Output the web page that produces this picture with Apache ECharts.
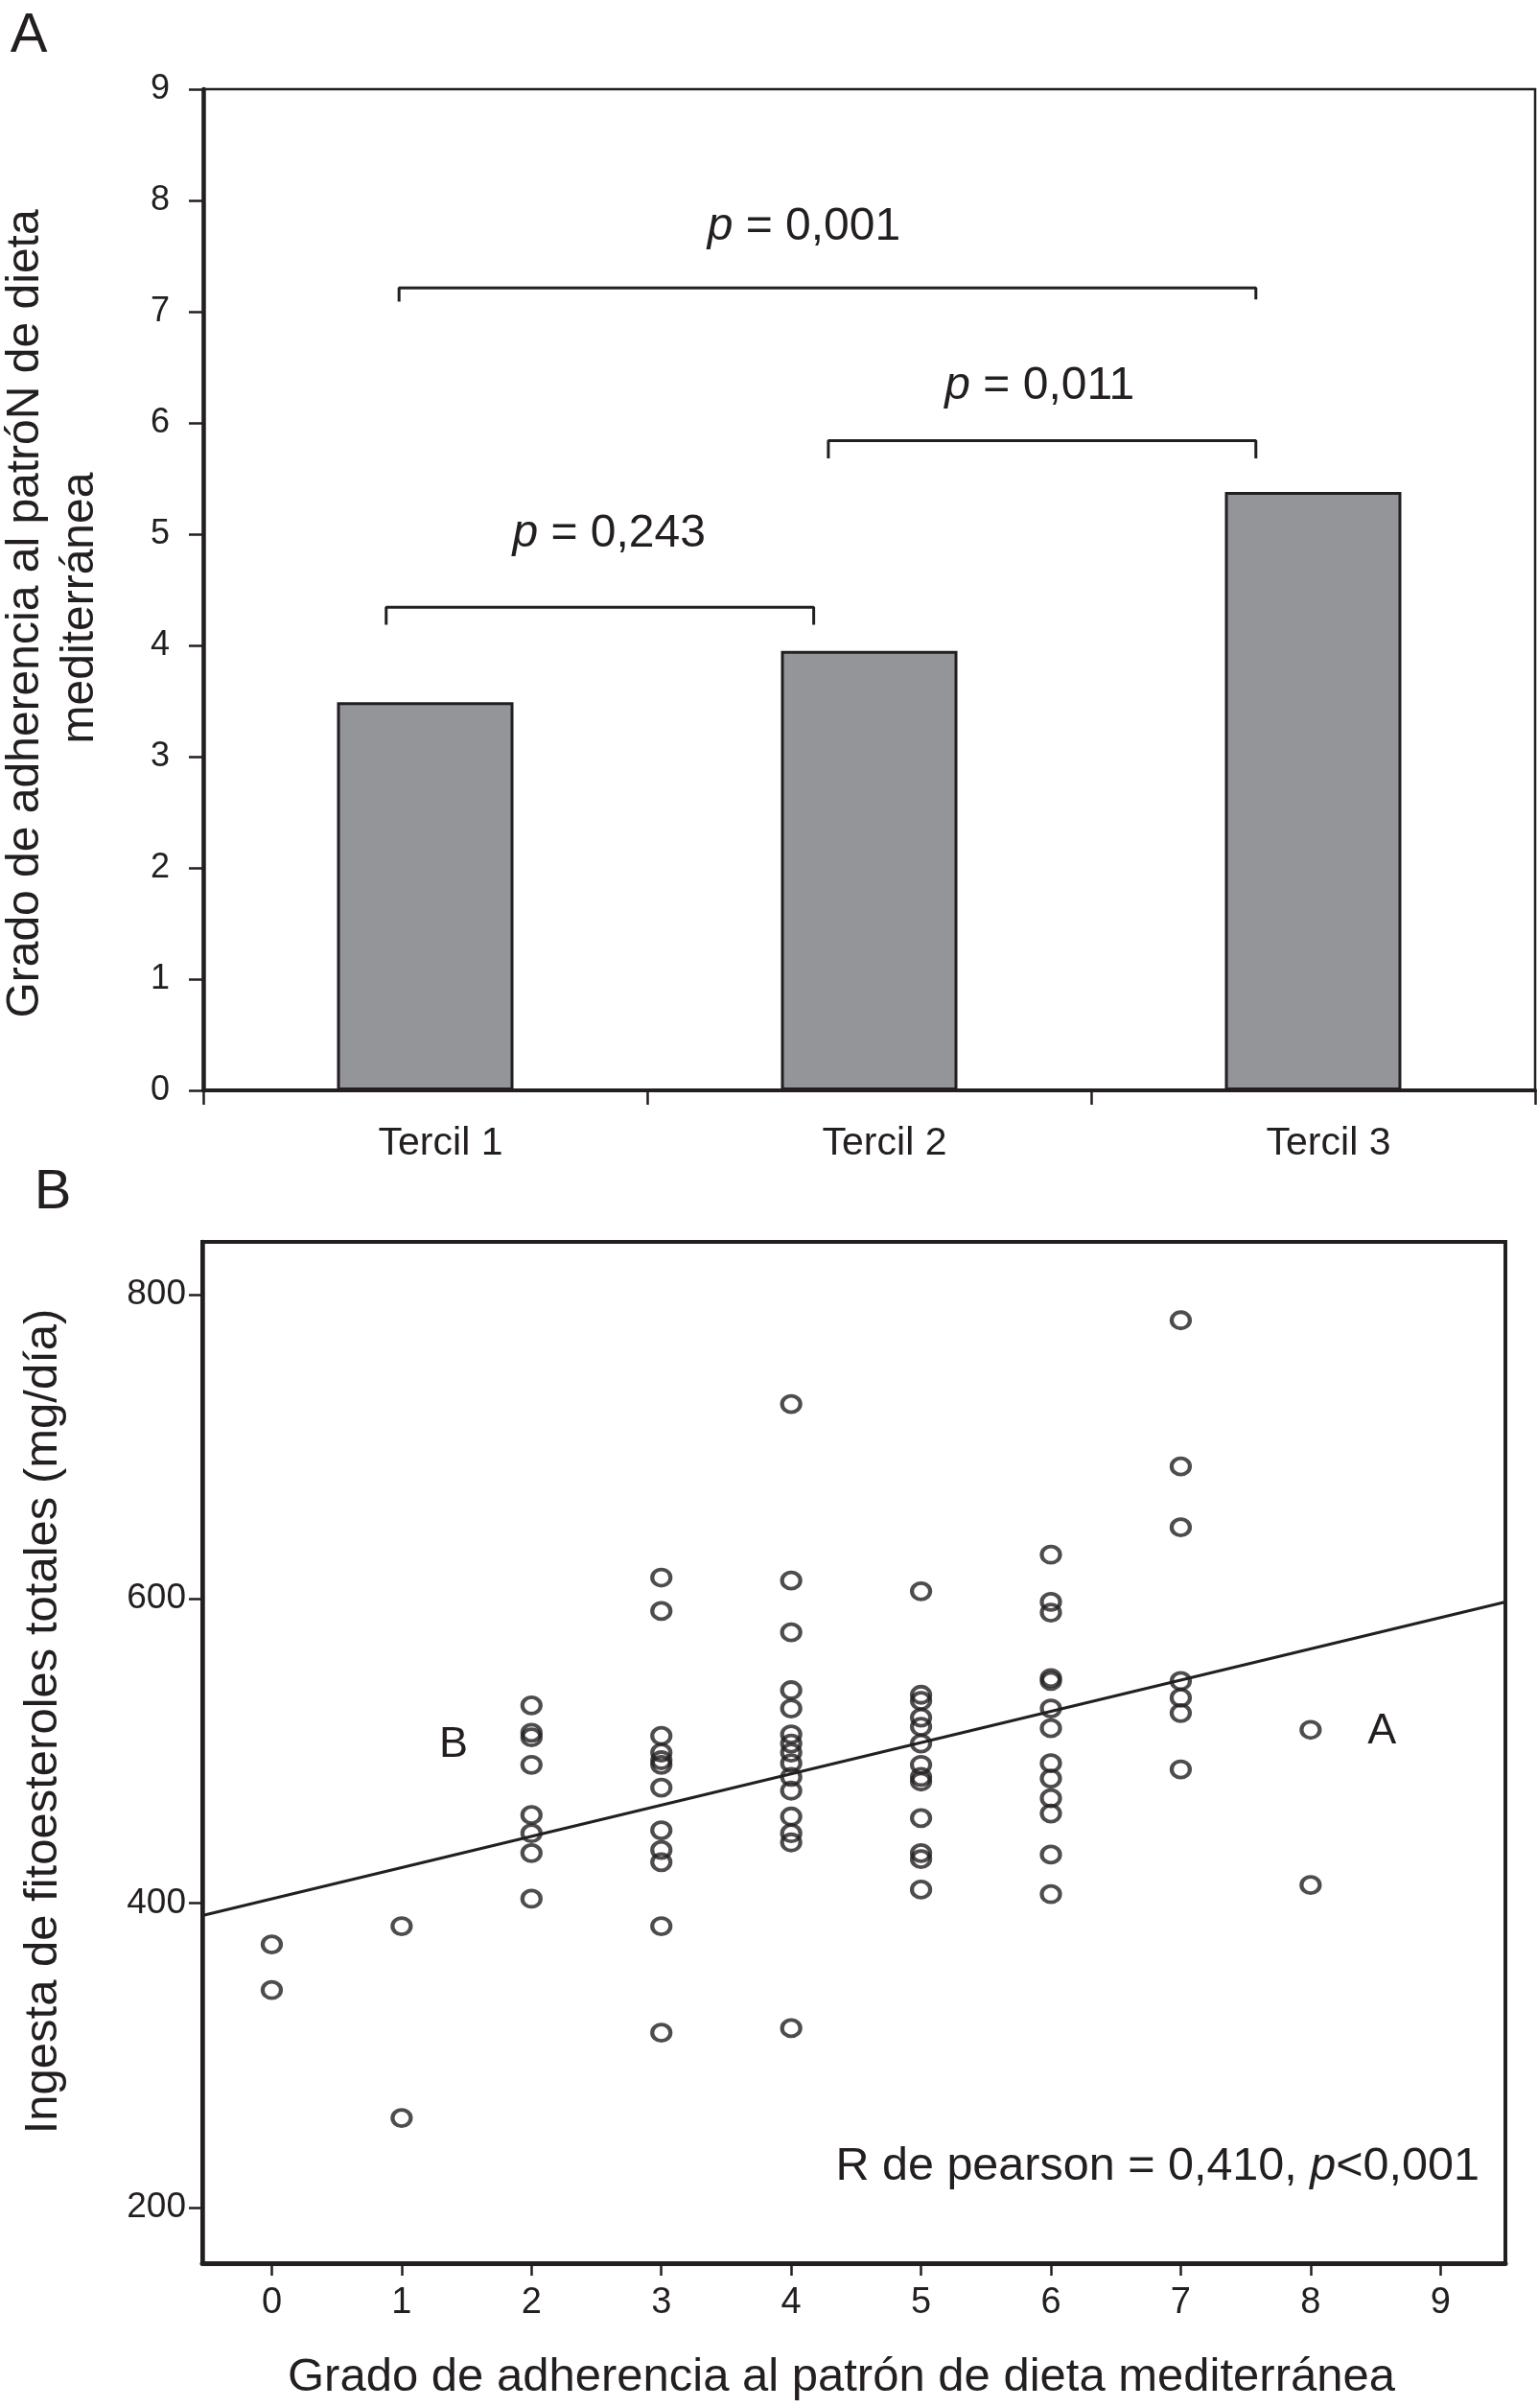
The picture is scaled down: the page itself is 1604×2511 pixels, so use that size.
<!DOCTYPE html>
<html>
<head>
<meta charset="utf-8">
<script src="https://cdn.jsdelivr.net/npm/echarts@6/dist/echarts.min.js"></script>
<style>
html,body{margin:0;padding:0;background:#fff;}
#chart{width:1604px;height:2511px;}
</style>
</head>
<body>
<div id="chart"></div>
<script>
// ---------- Panel A data ----------
const terciles = ['Tercil 1', 'Tercil 2', 'Tercil 3'];
const adherenceMeans = [3.49, 3.95, 5.38];
const yTicksA = [0, 1, 2, 3, 4, 5, 6, 7, 8, 9];

// significance brackets (x in category-band units 0..3, y in score units)
const pValues = ['0,243', '0,011', '0,001'];
const bracketLeft = [0.412, 1.408, 0.441];
const bracketRight = [1.375, 2.371, 2.371];
const bracketTop = [4.342, 5.84, 7.214];
const bracketLeftEnd = [4.185, 5.68, 7.09];
const bracketRightEnd = [4.185, 5.68, 7.11];
const pLabelX = [0.914, 1.884, 1.353];
const pLabelY = [5.0, 6.33, 7.76];

// ---------- Panel B data ----------
const scoreLevels = [0, 1, 2, 3, 4, 5, 6, 7, 8];
const intakeByScore = [
  [373, 343],
  [385, 259],
  [530, 512, 509, 491, 458, 446, 433, 403],
  [614, 592, 510, 499, 494, 491, 476, 448, 435, 427, 385, 315],
  [728, 612, 578, 540, 528, 511, 505, 499, 492, 483, 474, 457, 446, 440, 318],
  [605, 537, 533, 522, 516, 505, 491, 483, 480, 456, 433, 429, 409],
  [629, 598, 591, 548, 546, 528, 515, 492, 482, 469, 459, 432, 406],
  [783, 687, 647, 546, 535, 525, 488],
  [514, 412]
];
const fitLineX = [-0.535, 9.5];
const fitLineY = [392, 598];
const xTicksB = [0, 1, 2, 3, 4, 5, 6, 7, 8, 9];
const yTicksB = [200, 400, 600, 800];
const pointLabels = [
  { text: 'A', x: 8.55, y: 513 },
  { text: 'B', x: 1.40, y: 504 }
];
const correlationText = { x: 9.30, y: 227 };

// ---------- build ----------
const FONT = "'Liberation Sans', Arial, Helvetica, sans-serif";
const INK = '#231f20';

const scatterData = [];
scoreLevels.forEach((s, i) => intakeByScore[i].forEach(v => scatterData.push([s, v])));

const bracketSeries = pValues.map((p, i) => ({
  type: 'line',
  xAxisIndex: 1,
  yAxisIndex: 0,
  symbol: 'none',
  silent: true,
  lineStyle: { color: INK, width: 3 },
  data: [
    [bracketLeft[i], bracketLeftEnd[i]],
    [bracketLeft[i], bracketTop[i]],
    [bracketRight[i], bracketTop[i]],
    [bracketRight[i], bracketRightEnd[i]]
  ],
  z: 5
}));

const textLabelStyle = (size) => ({
  show: true,
  fontFamily: FONT,
  fontSize: size,
  color: INK,
  opacity: 1,
  textBorderWidth: 0,
  rich: { i: { fontStyle: 'italic', fontFamily: FONT, fontSize: size, color: INK } }
});

const pLabelSeries = {
  type: 'scatter',
  xAxisIndex: 1,
  yAxisIndex: 0,
  symbolSize: 0,
  silent: true,
  itemStyle: { color: INK },
  label: Object.assign(textLabelStyle(48), {
    position: 'inside',
    formatter: p => '{i|p} = ' + pValues[p.dataIndex]
  }),
  data: pLabelX.map((x, i) => [x, pLabelY[i]]),
  z: 6
};

const chart = echarts.init(document.getElementById('chart'), null, { renderer: 'canvas' });

chart.setOption({
  backgroundColor: '#ffffff',
  animation: false,
  textStyle: { fontFamily: FONT, color: INK },
  grid: [
    { left: 212, top: 93, width: 1389, height: 1044, show: true, borderColor: INK, borderWidth: 2.5, containLabel: false },
    { left: 211, top: 1295, width: 1359, height: 1065, show: true, borderColor: INK, borderWidth: 4, containLabel: false }
  ],
  xAxis: [
    {
      type: 'category', gridIndex: 0, data: terciles,
      axisLine: { lineStyle: { color: INK, width: 4 } },
      axisTick: { show: true, alignWithLabel: false, length: 15, lineStyle: { color: INK, width: 2.5 } },
      axisLabel: { fontSize: 41, color: INK, margin: 35, fontFamily: FONT, padding: [0, 0, 0, 32] },
      splitLine: { show: false }
    },
    {
      type: 'value', gridIndex: 0, min: 0, max: 3, show: false
    },
    {
      type: 'value', gridIndex: 1, min: -0.535, max: 9.5,
      name: 'Grado de adherencia al patrón de dieta mediterránea',
      nameLocation: 'middle', nameGap: 95,
      nameTextStyle: { fontSize: 49, color: INK, fontFamily: FONT, padding: [0, 26, 0, 0] },
      axisLine: { onZero: false, lineStyle: { color: INK, width: 5 } },
      axisTick: { show: true, length: 13, customValues: xTicksB, lineStyle: { color: INK, width: 2.5 } },
      axisLabel: { fontSize: 38, color: INK, margin: 23, customValues: xTicksB, fontFamily: FONT },
      splitLine: { show: false }
    }
  ],
  yAxis: [
    {
      type: 'value', gridIndex: 0, min: 0, max: 9, interval: 1,
      axisLine: { show: true, lineStyle: { color: INK, width: 4.5 } },
      axisTick: { show: true, length: 15, lineStyle: { color: INK, width: 2.5 } },
      axisLabel: { fontSize: 36, color: INK, margin: 35, fontFamily: FONT, customValues: yTicksA },
      splitLine: { show: false }
    },
    {
      type: 'value', gridIndex: 1, min: 163.6, max: 834.5,
      axisLine: { show: true, onZero: false, lineStyle: { color: INK, width: 4.5 } },
      axisTick: { show: true, length: 14, customValues: yTicksB, lineStyle: { color: INK, width: 2.5 } },
      axisLabel: { fontSize: 37, color: INK, margin: 17, customValues: yTicksB, fontFamily: FONT },
      splitLine: { show: false }
    }
  ],
  series: [
    {
      type: 'bar', xAxisIndex: 0, yAxisIndex: 0,
      data: adherenceMeans,
      barWidth: 184,
      itemStyle: { color: '#939598', borderColor: INK, borderWidth: 3 },
      silent: true
    },
    ...bracketSeries,
    pLabelSeries,
    {
      type: 'line', xAxisIndex: 2, yAxisIndex: 1,
      symbol: 'none', silent: true,
      lineStyle: { color: INK, width: 3 },
      data: fitLineX.map((x, i) => [x, fitLineY[i]]),
      z: 3
    },
    {
      type: 'scatter', xAxisIndex: 2, yAxisIndex: 1,
      symbol: 'circle', symbolSize: [19, 17],
      itemStyle: { color: 'rgba(255,255,255,0)', borderColor: INK, borderWidth: 4 },
      data: scatterData, silent: true, z: 4
    },
    {
      type: 'scatter', xAxisIndex: 2, yAxisIndex: 1,
      symbolSize: 0, silent: true,
      itemStyle: { color: INK },
      label: Object.assign(textLabelStyle(45), {
        position: 'inside',
        formatter: p => pointLabels[p.dataIndex].text
      }),
      data: pointLabels.map(d => [d.x, d.y]), z: 6
    },
    {
      type: 'scatter', xAxisIndex: 2, yAxisIndex: 1,
      symbolSize: 0, silent: true,
      itemStyle: { color: INK },
      label: Object.assign(textLabelStyle(48.5), {
        position: 'left', distance: 0,
        formatter: () => 'R de pearson = 0,410, {i|p}<0,001'
      }),
      data: [[correlationText.x, correlationText.y]], z: 6
    }
  ],
  graphic: [
    { type: 'text', x: 30, y: 38, style: { text: 'A', font: '58px ' + FONT, fill: INK, textAlign: 'center', textVerticalAlign: 'middle' } },
    { type: 'text', x: 55, y: 1244, style: { text: 'B', font: '58px ' + FONT, fill: INK, textAlign: 'center', textVerticalAlign: 'middle' } },
    { type: 'text', x: 27, y: 640, rotation: Math.PI / 2,
      style: { text: 'Grado de adherencia al patróN de dieta', font: '48px ' + FONT, fill: INK, textAlign: 'center', textVerticalAlign: 'middle' } },
    { type: 'text', x: 84, y: 634, rotation: Math.PI / 2,
      style: { text: 'mediterránea', font: '48px ' + FONT, fill: INK, textAlign: 'center', textVerticalAlign: 'middle' } },
    { type: 'text', x: 45, y: 1795, rotation: Math.PI / 2,
      style: { text: 'Ingesta de fitoesteroles totales (mg/día)', font: '49px ' + FONT, fill: INK, textAlign: 'center', textVerticalAlign: 'middle' } }
  ]
});
</script>
</body>
</html>
